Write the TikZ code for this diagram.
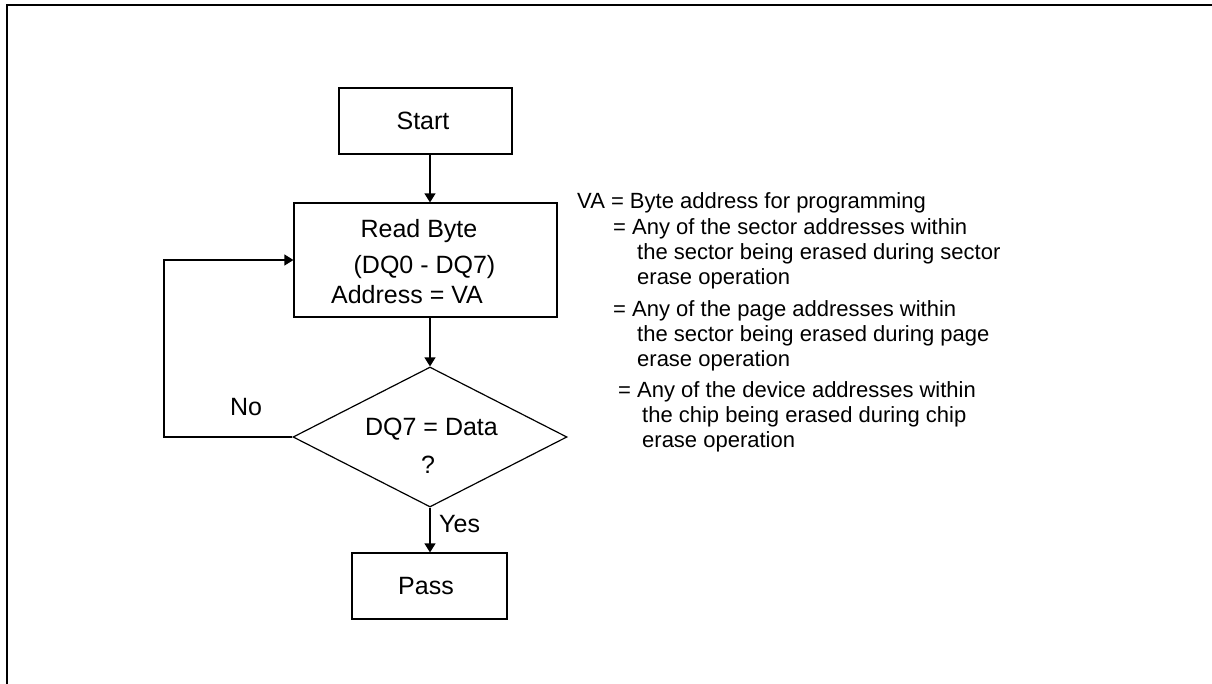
\documentclass[tikz,border=0pt]{standalone}
\usepackage{fontspec}
\setmainfont{Liberation Sans}
\usetikzlibrary{shapes.geometric,arrows.meta}
\begin{document}
\begin{tikzpicture}[x=1pt,y=-1pt,
  big/.style={font=\fontsize{25pt}{30pt}\selectfont,inner sep=0pt},
  small/.style={font=\fontsize{22pt}{26pt}\selectfont,inner sep=0pt,anchor=base west},
  box/.style={draw,line width=1.2pt,inner sep=0pt,rectangle},
  arr/.style={line width=1.2pt,-{Triangle[width=11pt,length=9pt]}}]
\useasboundingbox (0,0) rectangle (1212,683);
% outer frame (top and left only)
\draw[line width=2pt] (1212,5) -- (7,5) -- (7,690);
% flowchart nodes
\node[box,minimum width=173pt,minimum height=66pt] (start) at (425.5,121) {};
\node[big] (tstart) at (423,121) {Start};
\node[box,minimum width=263pt,minimum height=114pt] (read) at (425.5,260) {};
\node[big,anchor=base] (tread1) at (419,237) {Read Byte};
\node[big,anchor=base] (tread2) at (424.5,273) {(DQ0 - DQ7)};
\node[big,anchor=base] (tread3) at (407,303) {Address = VA};
\node[draw,diamond,line width=1.2pt,inner sep=0pt,minimum width=274pt,minimum height=140pt] (dia) at (430,437) {};
\node[big,anchor=base] (tdia1) at (431.5,435) {DQ7 = Data};
\node[big,anchor=base] (tdia2) at (428,473) {?};
\node[box,minimum width=155pt,minimum height=66pt] (pass) at (429.5,586) {};
\node[big] (tpass) at (426,586) {Pass};
% connectors
\draw[arr] (start.south -| dia) -- (read.north -| dia);
\draw[arr] (read.south -| dia) -- (dia.north);
\draw[arr] (dia.south) -- (pass.north -| dia.south);
\coordinate (lp) at (164,437);
\draw[arr] (dia.west) -- (lp) |- (read.west);
\node[big,anchor=base] (no) at (246,415) {No};
\node[big,anchor=base west] (yes) at (439,532) {Yes};
% legend text
\node[small] (l1) at (577,208) {VA = Byte address for programming};
\node[small] (l2) at (613,234) {= Any of the sector addresses within};
\node[small] (l3) at (637,259) {the sector being erased during sector};
\node[small] (l4) at (637,284) {erase operation};
\node[small] (l5) at (613,316) {= Any of the page addresses within};
\node[small] (l6) at (637,341) {the sector being erased during page};
\node[small] (l7) at (637,366) {erase operation};
\node[small] (l8) at (618,397) {= Any of the device addresses within};
\node[small] (l9) at (642,422) {the chip being erased during chip};
\node[small] (l10) at (642,447) {erase operation};
\end{tikzpicture}
\end{document}
